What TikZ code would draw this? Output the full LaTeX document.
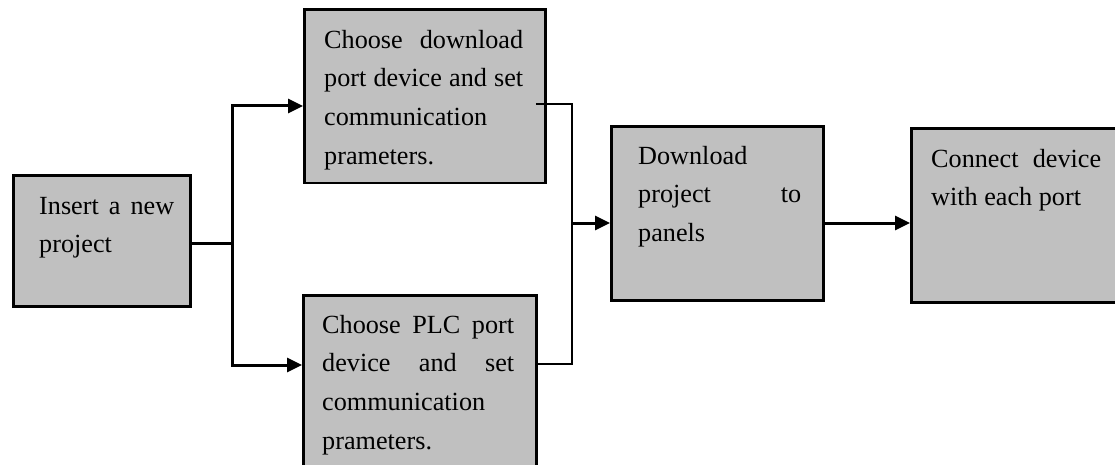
\documentclass[tikz,border=0pt]{standalone}
\usepackage{fontspec}
\setmainfont{Liberation Serif}
\usetikzlibrary{arrows.meta,calc}
\definecolor{boxgray}{RGB}{192,192,192}
\tolerance=10000
\hyphenpenalty=10000
\tikzset{
  box/.style={draw=black, fill=boxgray, line width=2.8pt, inner sep=0pt, anchor=north west},
  txt/.style={anchor=north west, inner sep=0pt, align=justify,
    font=\fontsize{26.2}{38.8}\selectfont},
  conn/.style={line width=3pt},
  thinconn/.style={line width=2.4pt},
  arr/.style={conn, -{Triangle[length=15pt,width=14pt]}}
}
\begin{document}
\begin{tikzpicture}[x=1pt,y=-1pt]
\useasboundingbox (0,0) rectangle (1115,465);
\clip (0,0) rectangle (1115,465);
% boxes
\node[box, minimum width=177pt, minimum height=131pt] (b1) at (12,174) {};
\node[box, minimum width=241pt, minimum height=173.5pt] (b2) at (303,8) {};
\node[box, minimum width=233pt, minimum height=186pt] (b3) at (302,294) {};
\node[box, minimum width=212pt, minimum height=174pt] (b4) at (610,125) {};
\node[box, minimum width=220pt, minimum height=174pt] (b5) at (910,127) {};
% texts (node top = first baseline - 27.16)
\node[txt, text width=135pt] (t1) at (39,186.8) {\strut Insert a new\linebreak project};
\node[txt, text width=199pt] (t2) at (324,20.8) {\strut Choose download\linebreak port device and set\linebreak communication\newline prameters.};
\node[txt, text width=192pt] (t3) at (322,305.8) {\strut Choose PLC port\linebreak device and set\linebreak communication\newline prameters.};
\node[txt, text width=163pt] (t4) at (638,136.8) {\strut Download\newline project to\linebreak panels};
\node[txt, text width=170pt] (t5) at (931,139.8) {\strut Connect device\linebreak with each port};
% junction coordinates
\coordinate (j) at (232,243);
\coordinate (jt) at (232,106);
\coordinate (jb) at (232,365);
\coordinate (k) at (572,223);
\coordinate (kt) at (572,104);
\coordinate (kb) at (572,364);
% left fork
\draw[conn] (b1.east |- j) -- (j);
\draw[arr] (j) -- (jt) -- (jt -| b2.west);
\draw[arr] (j) -- (jb) -- (jb -| b3.west);
% right merge
\draw[thinconn] ($(b2.east |- kt)+(-11,0)$) -- (kt) -- (kb) -- ($(b3.east |- kb)+(-2,0)$);
\draw[arr] (k) -- (k -| b4.west);
\draw[arr] (b4.east |- k) -- (k -| b5.west);
\end{tikzpicture}
\end{document}
